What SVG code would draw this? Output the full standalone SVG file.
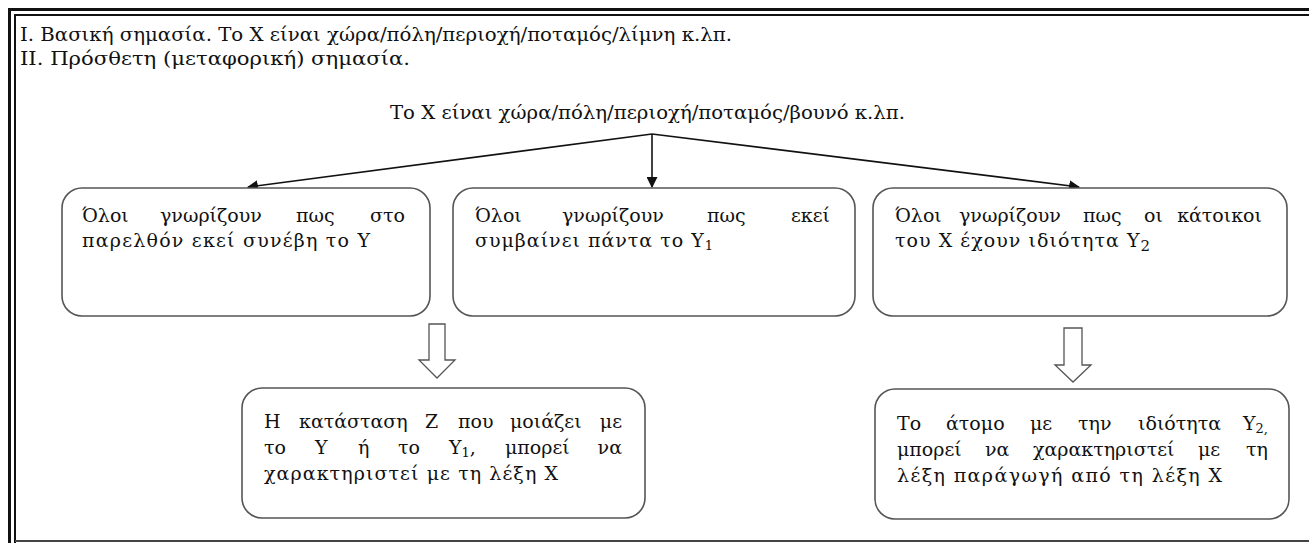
<svg xmlns="http://www.w3.org/2000/svg" width="1309" height="543" viewBox="0 0 1309 543">
<style>
text{font-family:"DejaVu Serif","Liberation Serif",serif;font-size:19px;fill:#111}
.hd{font-size:19px}
.box{fill:#fff;stroke:#555;stroke-width:1.6}
.frame{stroke:#111;fill:none}
.conn{stroke:#111;stroke-width:1.6;fill:none}
.hollow{fill:#fff;stroke:#555;stroke-width:1.3}
.sub{font-size:13px}
.end{text-anchor:end}
</style>
<defs>
<marker id="ah" viewBox="0 0 10 10" refX="9" refY="5" markerWidth="11" markerHeight="11" orient="auto" markerUnits="userSpaceOnUse">
<path d="M0,0 L10,5 L0,10 z" fill="#111"/>
</marker>
</defs>
<rect width="1309" height="543" fill="#fff"/>
<g id="frame">
<path class="frame" stroke-width="3" d="M9.5,543 V9.5 H1309"/>
<path class="frame" stroke-width="2" d="M15,543 V15 H1309"/>
<path stroke="#444" stroke-width="2" d="M15,541 H1309"/>
</g>
<g id="header">
<text class="hd" x="20" y="41" textLength="712" lengthAdjust="spacingAndGlyphs">I. Βασική σημασία. Το X είναι χώρα/πόλη/περιοχή/ποταμός/λίμνη κ.λπ.</text>
<text class="hd" x="20" y="65" textLength="390" lengthAdjust="spacingAndGlyphs">II. Πρόσθετη (μεταφορική) σημασία.</text>
<text class="hd" x="390" y="119" textLength="515" lengthAdjust="spacingAndGlyphs">Το X είναι χώρα/πόλη/περιοχή/ποταμός/βουνό κ.λπ.</text>
</g>
<g id="connectors">
<path class="conn" d="M652,134 L248,187" marker-end="url(#ah)"/>
<path class="conn" d="M652,134 L652,187" marker-end="url(#ah)"/>
<path class="conn" d="M652,134 L1079,187" marker-end="url(#ah)"/>
<path class="hollow" d="M429,324 H445 V360 H455 L437,378 L419,360 H429 Z"/>
<path class="hollow" d="M1064,328 H1082 V365 H1091 L1073,382 L1055,365 H1064 Z"/>
</g>
<g id="node1">
<rect class="box" x="62" y="188" width="368" height="128" rx="20"/>
<text y="222"><tspan x="82">Όλοι</tspan><tspan x="160">γνωρίζουν</tspan><tspan x="296">πως</tspan></text>
<text class="end" x="405" y="222">στο</text>
<text x="82" y="247" textLength="288" lengthAdjust="spacing">παρελθόν εκεί συνέβη το Y</text>
</g>
<g id="node2">
<rect class="box" x="453" y="188" width="402" height="128" rx="20"/>
<text y="222"><tspan x="475">Όλοι</tspan><tspan x="562">γνωρίζουν</tspan><tspan x="707">πως</tspan></text>
<text class="end" x="830" y="222">εκεί</text>
<text x="475" y="247" textLength="238" lengthAdjust="spacing">συμβαίνει πάντα το Y<tspan class="sub" dy="3">1</tspan></text>
</g>
<g id="node3">
<rect class="box" x="873" y="188" width="414" height="128" rx="20"/>
<text y="222"><tspan x="895">Όλοι</tspan><tspan x="959">γνωρίζουν</tspan><tspan x="1083">πως</tspan><tspan x="1144">οι</tspan></text>
<text class="end" x="1262" y="222">κάτοικοι</text>
<text x="895" y="247" textLength="255" lengthAdjust="spacing">του X έχουν ιδιότητα Y<tspan font-size="15" dy="4">2</tspan></text>
</g>
<g id="node4">
<rect class="box" x="242" y="388" width="403" height="130" rx="20"/>
<text y="428"><tspan x="264">Η</tspan><tspan x="299">κατάσταση</tspan><tspan x="425">Z</tspan><tspan x="458">που</tspan><tspan x="510">μοιάζει</tspan></text>
<text class="end" x="622" y="428">με</text>
<text y="454"><tspan x="264">το</tspan><tspan x="315">Y</tspan><tspan x="358">ή</tspan><tspan x="398">το</tspan><tspan x="449">Y</tspan><tspan class="sub" dy="3">1</tspan><tspan dy="-3">,</tspan><tspan x="505">μπορεί</tspan></text>
<text class="end" x="622" y="454">να</text>
<text x="264" y="480" textLength="294" lengthAdjust="spacing">χαρακτηριστεί με τη λέξη X</text>
</g>
<g id="node5">
<rect class="box" x="875" y="389" width="414" height="130" rx="20"/>
<text y="430"><tspan x="897">Το</tspan><tspan x="946">άτομο</tspan><tspan x="1030">με</tspan><tspan x="1078">την</tspan><tspan x="1138">ιδιότητα</tspan><tspan x="1243">Y</tspan><tspan class="sub" dy="3">2,</tspan></text>
<text y="456"><tspan x="897">μπορεί</tspan><tspan x="985">να</tspan><tspan x="1033">χαρακτηριστεί</tspan><tspan x="1198">με</tspan></text>
<text class="end" x="1268" y="456">τη</text>
<text x="897" y="482" textLength="325" lengthAdjust="spacing">λέξη παράγωγή από τη λέξη X</text>
</g>
</svg>
